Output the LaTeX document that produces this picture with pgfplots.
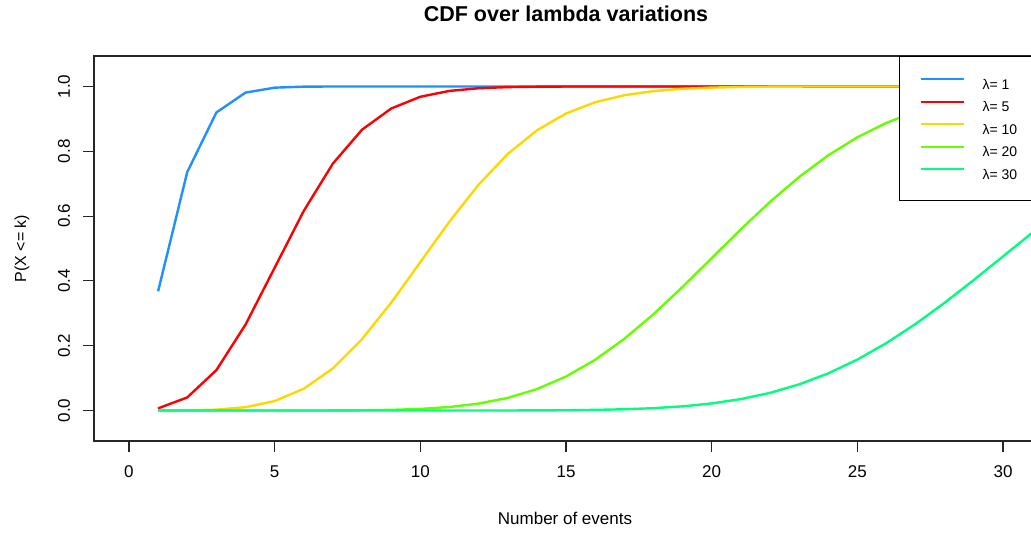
\documentclass[border=0pt]{standalone}
\usepackage{fontspec}
\setmainfont{Liberation Sans}
\usepackage{pgfplots}
\pgfplotsset{compat=1.18}
\definecolor{lamA}{HTML}{1E90FF}
\definecolor{lamB}{HTML}{FF0000}
\definecolor{lamC}{HTML}{FFD700}
\definecolor{lamD}{HTML}{66FF00}
\definecolor{lamE}{HTML}{00FF7F}

% Poisson CDF P(X<=k), plotted at index x = k+1
\pgfplotstableread{
x   l1     l5     l10    l20    l30
1   0.3679 0.0067 0.0000 0.0000 0.0000
2   0.7358 0.0404 0.0005 0.0000 0.0000
3   0.9197 0.1247 0.0028 0.0000 0.0000
4   0.9810 0.2650 0.0103 0.0000 0.0000
5   0.9963 0.4405 0.0293 0.0000 0.0000
6   0.9994 0.6160 0.0671 0.0001 0.0000
7   0.9999 0.7622 0.1301 0.0003 0.0000
8   1.0000 0.8666 0.2202 0.0008 0.0000
9   1.0000 0.9319 0.3328 0.0021 0.0000
10  1.0000 0.9682 0.4579 0.0050 0.0000
11  1.0000 0.9863 0.5830 0.0108 0.0000
12  1.0000 0.9945 0.6968 0.0214 0.0001
13  1.0000 0.9980 0.7916 0.0390 0.0002
14  1.0000 0.9993 0.8645 0.0661 0.0004
15  1.0000 0.9998 0.9165 0.1049 0.0009
16  1.0000 0.9999 0.9513 0.1565 0.0020
17  1.0000 1.0000 0.9730 0.2211 0.0039
18  1.0000 1.0000 0.9857 0.2970 0.0073
19  1.0000 1.0000 0.9928 0.3814 0.0129
20  1.0000 1.0000 0.9965 0.4703 0.0219
21  1.0000 1.0000 0.9984 0.5591 0.0353
22  1.0000 1.0000 0.9993 0.6437 0.0544
23  1.0000 1.0000 0.9997 0.7206 0.0806
24  1.0000 1.0000 0.9999 0.7875 0.1146
25  1.0000 1.0000 1.0000 0.8432 0.1572
26  1.0000 1.0000 1.0000 0.8878 0.2084
27  1.0000 1.0000 1.0000 0.9221 0.2673
28  1.0000 1.0000 1.0000 0.9475 0.3329
29  1.0000 1.0000 1.0000 0.9657 0.4031
30  1.0000 1.0000 1.0000 0.9782 0.4757
31  1.0000 1.0000 1.0000 0.9865 0.5484
32  1.0000 1.0000 1.0000 0.9919 0.6186
}\cdf

\begin{document}
\begin{tikzpicture}[x=1pt,y=1pt]
\begin{axis}[
    at={(94pt,92pt)}, anchor=south west,
    scale only axis, width=944pt, height=385pt,
    xmin=-1.2, xmax=31.2, ymin=-0.094, ymax=1.094,
    xtick={0,5,...,30}, ytick={0,0.2,...,1},
    xtick pos=bottom, ytick pos=left,
    tick align=outside, major tick length=11pt,
    axis line style={black!85, line width=1.1pt},
    every tick/.style={black!85, line width=1.1pt},
    tick label style={font=\fontsize{17}{20}\selectfont},
    /pgf/number format/assume math mode=true,
    yticklabel style={rotate=90, anchor=base, yshift=13pt, /pgf/number format/.cd, fixed, fixed zerofill, precision=1},
    xticklabel style={anchor=base, yshift=-25pt},
    legend cell align=left,
    legend image code/.code={\draw[#1, line width=2pt] (0pt,5pt) -- (43pt,5pt);},
    legend style={at={(0.8528,1)}, anchor=north west, draw=black, line width=1.1pt,
        fill=white, font=\fontsize{14}{16}\selectfont,
        inner xsep=20pt, inner ysep=21.5pt, row sep=11.5pt, column sep=18pt,
        nodes={inner sep=0pt, text height=10pt, text depth=0pt}},
    every axis plot/.append style={line width=2.4pt, line join=round},
]
\addplot[lamA] table[x=x, y=l1] {\cdf};
\addlegendentry{λ= 1}
\addplot[lamB] table[x=x, y=l5] {\cdf};
\addlegendentry{λ= 5}
\addplot[lamC] table[x=x, y=l10] {\cdf};
\addlegendentry{λ= 10}
\addplot[lamD] table[x=x, y=l20] {\cdf};
\addlegendentry{λ= 20}
\addplot[lamE] table[x=x, y=l30] {\cdf};
\addlegendentry{λ= 30}
\end{axis}
\node[anchor=base, font=\bfseries\fontsize{21.5}{25}\selectfont] at (566,511) {CDF over lambda variations};
\node[anchor=base, font=\fontsize{17}{20}\selectfont] at (565,9) {Number of events};
\node[anchor=base, rotate=90, font=\fontsize{16}{19}\selectfont] at (26,284.5) {P(X <= k)};
\pgfresetboundingbox
\path (0,0) rectangle (1031,533);
\end{tikzpicture}
\end{document}
